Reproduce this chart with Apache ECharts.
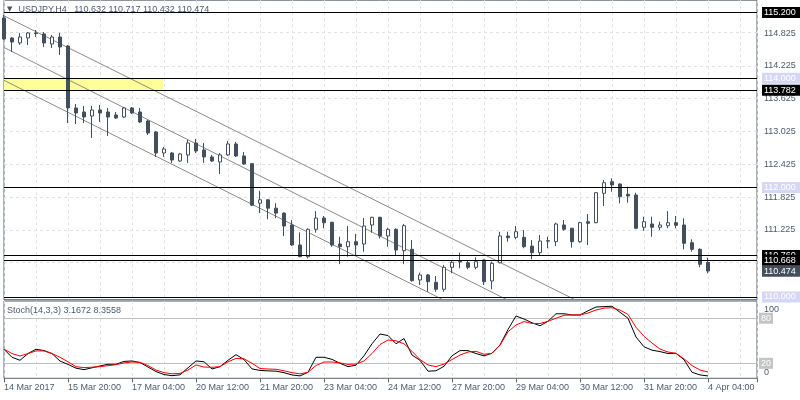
<!DOCTYPE html>
<html><head><meta charset="utf-8">
<script src="https://cdn.jsdelivr.net/npm/echarts/dist/echarts.min.js"></script>
<style>html,body{margin:0;padding:0;background:#fff}#c{width:800px;height:400px}</style>
</head><body><div id="c"></div>
<script>
// ---- data ----
const xLabels = ['14 Mar 2017','15 Mar 20:00','17 Mar 04:00','20 Mar 12:00','21 Mar 20:00','23 Mar 04:00','24 Mar 12:00','27 Mar 20:00','29 Mar 04:00','30 Mar 12:00','31 Mar 20:00','4 Apr 04:00'];
const opens = [115.100,114.734,114.643,114.734,114.826,114.808,114.625,114.752,114.588,113.455,
113.382,113.308,113.418,113.381,113.327,113.290,113.455,113.381,113.217,113.016,
112.632,112.632,112.486,112.596,112.815,112.687,112.559,112.468,112.596,112.797,
112.578,112.437,111.715,111.776,111.623,111.533,111.315,110.950,110.736,111.237,
111.443,111.365,110.968,110.919,111.010,110.968,111.315,111.456,111.115,111.237,
110.846,110.871,110.310,110.402,110.268,110.140,110.542,110.639,110.626,110.542,
110.676,110.292,110.626,111.115,111.090,111.090,110.930,110.810,111.020,111.010,
111.316,111.255,111.010,111.376,111.358,111.895,112.107,112.065,111.877,111.864,
111.274,111.334,111.274,111.303,111.358,111.316,110.992,110.871,110.632];
const highs = [115.155,114.752,114.826,114.844,114.880,114.844,114.789,114.826,114.606,113.528,
113.491,113.491,113.510,113.455,113.381,113.473,113.473,113.455,113.235,113.035,
112.742,112.651,112.632,112.870,112.888,112.815,112.596,112.632,112.852,112.833,
112.651,112.450,111.941,111.788,111.715,111.545,111.406,111.180,111.255,111.570,
111.480,111.376,111.101,111.297,111.150,111.443,111.467,111.467,111.266,111.255,
111.334,111.041,110.444,110.420,110.383,110.584,110.676,110.809,110.676,110.725,
110.689,110.645,111.193,111.193,111.297,111.224,111.040,111.133,111.100,111.358,
111.407,111.266,111.376,111.517,111.913,112.138,112.169,112.077,112.016,111.906,
111.467,111.467,111.376,111.570,111.480,111.438,111.054,110.890,110.717];
const lows = [114.700,114.478,114.606,114.606,114.752,114.570,114.552,114.424,113.180,113.162,
113.180,112.906,113.199,112.943,113.254,113.272,113.345,113.180,112.961,112.559,
112.559,112.450,112.468,112.450,112.632,112.450,112.468,112.248,112.578,112.559,
112.413,111.660,111.533,111.421,111.440,111.113,110.931,110.725,110.707,111.175,
111.255,110.919,110.600,110.736,110.750,110.827,111.175,111.070,110.919,110.762,
110.600,110.279,110.219,110.096,110.096,110.096,110.433,110.524,110.506,110.506,
110.219,110.140,110.615,111.010,111.054,110.890,110.690,110.750,110.890,110.930,
111.210,110.900,110.990,110.950,111.347,111.663,111.924,111.712,111.723,111.240,
111.210,111.100,111.224,111.255,111.255,110.871,110.828,110.542,110.432];
const closes = [114.716,114.661,114.752,114.826,114.815,114.643,114.752,114.570,113.455,113.363,
113.290,113.418,113.363,113.290,113.272,113.455,113.363,113.199,112.998,112.632,
112.705,112.504,112.614,112.815,112.669,112.559,112.486,112.596,112.797,112.578,
112.431,111.678,111.776,111.623,111.533,111.297,110.950,110.736,111.237,111.443,
111.357,110.950,110.919,111.010,110.950,111.297,111.456,111.115,111.237,110.859,
111.303,110.297,110.402,110.279,110.140,110.542,110.634,110.648,110.542,110.645,
110.279,110.615,111.115,111.084,111.193,110.919,110.810,111.023,111.030,111.334,
111.237,111.010,111.358,111.347,111.906,112.089,112.047,111.833,111.846,111.255,
111.376,111.274,111.316,111.358,111.310,110.981,110.871,110.597,110.474];
const stochK = [38.7,28,24,33,38.7,37,33,23,18.5,13.5,
11.5,14,16.4,18.7,18.7,22.5,23.1,21,15,9,
5,3.5,4.6,14,23.1,22,12.4,15.5,24,31.5,
25,12.5,10.5,9.9,9.5,7.5,4.5,3.2,8,28,
28,25.2,20,15.5,17.5,30,46,59,57,46,
53,31,24,9.5,10,16,30,36.9,36.9,33,
30,33.3,44.4,65,83,79,74,70,76,86,
86,84.4,84.4,90,95,95.5,96,88,80,55,
42,37.5,35.6,33,33.3,24.8,8,4.5,3.1672];
const stochD = [38.7,33,29.7,33,36.5,36.5,33,28,22,15.5,
14.2,14.8,15.5,16.8,18.2,20.5,21.7,21.3,17,11,
7.5,6,6.5,11,17.8,15,14.7,15.5,22,26.5,
26,20,13,12.4,12,10,7.5,5.9,8,17,
21.7,21.7,20.5,18.5,19,23,33,45,51,50,
46,36,25,17.8,15.5,19,25,31,35,36,
32,33.3,44,62,71,75.6,73,73,76,80,
84,84.4,84.4,87,91,93.5,94,91,85,68,
56,47,39,35,33.3,26,17,11,8.3558];
const priceTicks = [111.225,111.825,112.425,113.025,113.625,114.225,114.825];
const gridPrices = [110.625,111.225,111.825,112.425,113.025,113.625,114.225,114.825];
const blackLevels = [115.200,113.782,110.760,110.668];
const lavenderLevels = [114.000,112.000,110.000];
const lastPrice = 110.474;
const zoneBars = [0, 19.9];
const zonePrices = [114.000, 113.782];
const channelA = [[0,115.14],[71.5,109.94]];
const channelB = [[0,114.56],[63,109.94]];
const channelC = [[0,113.96],[55,109.94]];
const stochLevels = [80, 20];
const mainTitle = 'USDJPY,H4   110.632 110.717 110.432 110.474';
const stochTitle = 'Stoch(14,3,3) 3.1672 8.3558';

// ---- styles ----
const FONT = 'Liberation Sans';
const TXT = '#4a5a70';
const AX = '#59636e';
const CANDLE = '#444f5d';
const GRIDC = '#e2e2e2';

const candleData = opens.map((o, i) => [i, o, closes[i], lows[i], highs[i]]);
const kData = stochK.map((v, i) => [i, v]);
const dData = stochD.map((v, i) => [i, v]);

function boxLabel(text, bg, fg) {
  return { show: true, position: 'end', distance: 5, formatter: text, backgroundColor: bg, color: fg,
    fontFamily: FONT, fontSize: 9, lineHeight: 10, padding: [1, 6, 0, 2], opacity: 1 };
}
const levelItems = [];
lavenderLevels.forEach(p => levelItems.push({ yAxis: p, lineStyle: { color: '#000', width: 1, type: 'solid' },
  label: boxLabel(p.toFixed(3), '#d6d6f6', '#ffffff') }));
blackLevels.forEach(p => levelItems.push({ yAxis: p, lineStyle: { color: '#000', width: 1, type: 'solid' },
  label: boxLabel(p.toFixed(3), '#000000', '#ffffff') }));
levelItems.push({ yAxis: lastPrice, lineStyle: { color: 'rgba(0,0,0,0)', width: 1, type: 'solid' },
  label: boxLabel(lastPrice.toFixed(3), CANDLE, '#ffffff') });

const xCommon = { type: 'value', min: 0, max: 94.125, axisLine: { show: false }, axisTick: { show: false } };

const option = {
  animation: false,
  backgroundColor: '#ffffff',
  title: [
    { text: '{a|▼}' + mainTitle, left: 7, top: 5, padding: 0,
      textStyle: { fontFamily: FONT, fontSize: 9, fontWeight: 'normal', color: TXT,
        rich: { a: { fontFamily: 'DejaVu Sans', fontSize: 7, color: '#555', padding: [0, 6, 0, 0] } } } },
    { text: stochTitle, left: 7, top: 306, padding: 0,
      textStyle: { fontFamily: FONT, fontSize: 9, fontWeight: 'normal', color: TXT } }
  ],
  grid: [
    { left: 4, right: 43, top: 0.2, height: 299.5, show: true, borderColor: AX, borderWidth: 1, backgroundColor: 'transparent' },
    { left: 4, right: 43, top: 301, height: 77.3, show: true, borderColor: AX, borderWidth: 1, backgroundColor: 'transparent' }
  ],
  xAxis: [
    Object.assign({ gridIndex: 0, interval: 4, axisLabel: { show: false },
      splitLine: { show: true, lineStyle: { color: GRIDC, type: [3, 3], width: 1 } } }, xCommon),
    Object.assign({ gridIndex: 1, position: 'top', interval: 4, axisLabel: { show: false },
      splitLine: { show: true, lineStyle: { color: GRIDC, type: [3, 3], width: 1 } } }, xCommon),
    { gridIndex: 1, type: 'value', position: 'bottom', min: 0, max: 94.125, interval: 8,
      axisLine: { show: false },
      axisTick: { show: true, length: 4, inside: false, lineStyle: { color: AX } },
      splitLine: { show: false },
      axisLabel: { show: true, align: 'left', margin: 5, fontFamily: FONT, fontSize: 9, color: TXT,
        formatter: v => { const k = Math.round(v / 8); return (Math.abs(v - k * 8) < 1e-6 && xLabels[k]) ? xLabels[k] : ''; } } }
  ],
  yAxis: [
    { gridIndex: 0, type: 'value', position: 'right', min: 109.95, max: 115.425, interval: 0.075,
      axisLine: { show: false }, axisTick: { show: false }, splitLine: { show: false },
      axisLabel: { show: true, margin: 7, fontFamily: FONT, fontSize: 9, color: TXT,
        formatter: v => { const h = priceTicks.find(p => Math.abs(p - v) < 1e-4); return h ? h.toFixed(3) : ''; } } },
    { gridIndex: 1, type: 'value', position: 'right', min: 0, max: 103, interval: 100,
      axisLine: { show: false }, axisTick: { show: false }, splitLine: { show: false },
      axisLabel: { show: true, margin: 7, fontFamily: FONT, fontSize: 9, color: TXT,
        formatter: v => v === 100 ? '{t|100}' : (v === 0 ? '{b|0}' : ''),
        rich: { t: { padding: [12, 0, 0, 0], fontFamily: FONT, fontSize: 9, color: TXT },
                b: { padding: [0, 0, 12, 0], fontFamily: FONT, fontSize: 9, color: TXT } } } }
  ],
  series: [
    { type: 'line', xAxisIndex: 0, yAxisIndex: 0, data: [[0, 112]], showSymbol: false, symbol: 'none',
      lineStyle: { opacity: 0 }, silent: true, z: 1,
      markLine: { silent: true, symbol: 'none', z: 1, animation: false,
        lineStyle: { color: GRIDC, type: [3, 3], width: 1 }, label: { show: false },
        data: gridPrices.map(p => ({ yAxis: p })) },
      markArea: { silent: true, z: 1, itemStyle: { color: '#ffff99' },
        data: [[{ xAxis: zoneBars[0], yAxis: zonePrices[0] }, { xAxis: zoneBars[1], yAxis: zonePrices[1] }]] } },
    { type: 'line', xAxisIndex: 0, yAxisIndex: 0, data: channelA, symbol: 'none', silent: true, z: 2,
      lineStyle: { color: '#8a8a8a', width: 1 } },
    { type: 'line', xAxisIndex: 0, yAxisIndex: 0, data: channelB, symbol: 'none', silent: true, z: 2,
      lineStyle: { color: '#8a8a8a', width: 1 } },
    { type: 'line', xAxisIndex: 0, yAxisIndex: 0, data: channelC, symbol: 'none', silent: true, z: 2,
      lineStyle: { color: '#8a8a8a', width: 1 } },
    { type: 'candlestick', xAxisIndex: 0, yAxisIndex: 0, data: candleData, encode: { x: 0, y: [1, 2, 3, 4] },
      barWidth: 4, z: 3,
      itemStyle: { color: '#ffffff', color0: CANDLE, borderColor: CANDLE, borderColor0: CANDLE, borderWidth: 1 },
      markLine: { silent: true, symbol: 'none', z: 5, animation: false, data: levelItems } },
    { type: 'line', xAxisIndex: 1, yAxisIndex: 1, data: kData, symbol: 'none', silent: true, z: 3,
      lineStyle: { color: '#000000', width: 1 },
      markLine: { silent: true, symbol: 'none', z: 1, animation: false,
        data: stochLevels.map(v => ({ yAxis: v, lineStyle: { color: '#c0c0c0', width: 1, type: 'solid' },
          label: { show: true, position: 'end', distance: 2, formatter: String(v), backgroundColor: '#c4c4c4',
            color: '#ffffff', fontFamily: FONT, fontSize: 9, lineHeight: 10, padding: [1, 2, 0, 2] } })) } },
    { type: 'line', xAxisIndex: 1, yAxisIndex: 1, data: dData, symbol: 'none', silent: true, z: 4,
      lineStyle: { color: '#ff0000', width: 1 } }
  ]
};
echarts.init(document.getElementById('c'), null, { renderer: 'canvas' }).setOption(option);
</script></body></html>
